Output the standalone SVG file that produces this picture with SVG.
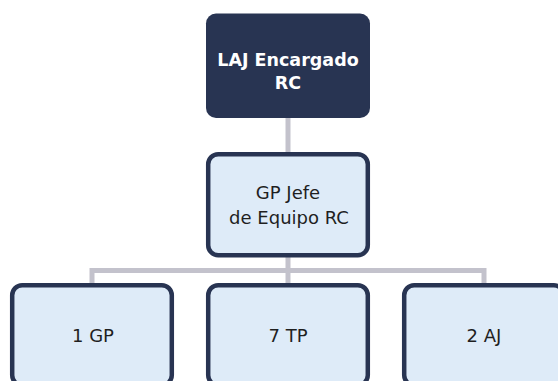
<svg xmlns="http://www.w3.org/2000/svg" width="558" height="381" viewBox="0 0 558 381">
<style>
.conn{stroke:#c3c2cc;stroke-width:5;fill:none}
.top{fill:#283452}
.box{fill:#deebf8;stroke:#283452;stroke-width:4.5}
.t{font-family:"DejaVu Sans","Liberation Sans",sans-serif;text-anchor:middle}
.tw{fill:#ffffff;font-weight:bold;font-size:17.5px}
.tm{fill:#1f1f1f;font-size:18px}
.tb{fill:#1f1f1f;font-size:18px}
</style>
<rect width="558" height="381" fill="#ffffff"/>
<g id="connectors">
<line class="conn" x1="288" y1="117" x2="288" y2="154"/>
<polyline class="conn" points="288,256 288,270.5 92,270.5 92,285"/>
<polyline class="conn" points="288,270.5 484,270.5 484,285"/>
<line class="conn" x1="288" y1="270" x2="288" y2="285"/>
</g>
<g id="n-laj">
<rect class="top" x="206" y="13.5" width="164" height="104.5" rx="10"/>
<text class="t tw" x="288" y="66">LAJ Encargado</text>
<text class="t tw" x="288" y="88.5">RC</text>
</g>
<g id="n-gp-jefe">
<rect class="box" x="208.2" y="154.2" width="159.6" height="101" rx="10"/>
<text class="t tm" x="288" y="199">GP Jefe</text>
<text class="t tm" x="289" y="224">de Equipo RC</text>
</g>
<g id="n-1gp">
<rect class="box" x="12.2" y="285.2" width="159.6" height="100" rx="10"/>
<text class="t tb" x="93" y="342">1 GP</text>
</g>
<g id="n-7tp">
<rect class="box" x="208.2" y="285.2" width="159.6" height="100" rx="10"/>
<text class="t tb" x="288" y="342">7 TP</text>
</g>
<g id="n-2aj">
<rect class="box" x="404.2" y="285.2" width="159.6" height="100" rx="10"/>
<text class="t tb" x="484" y="342">2 AJ</text>
</g>
</svg>
